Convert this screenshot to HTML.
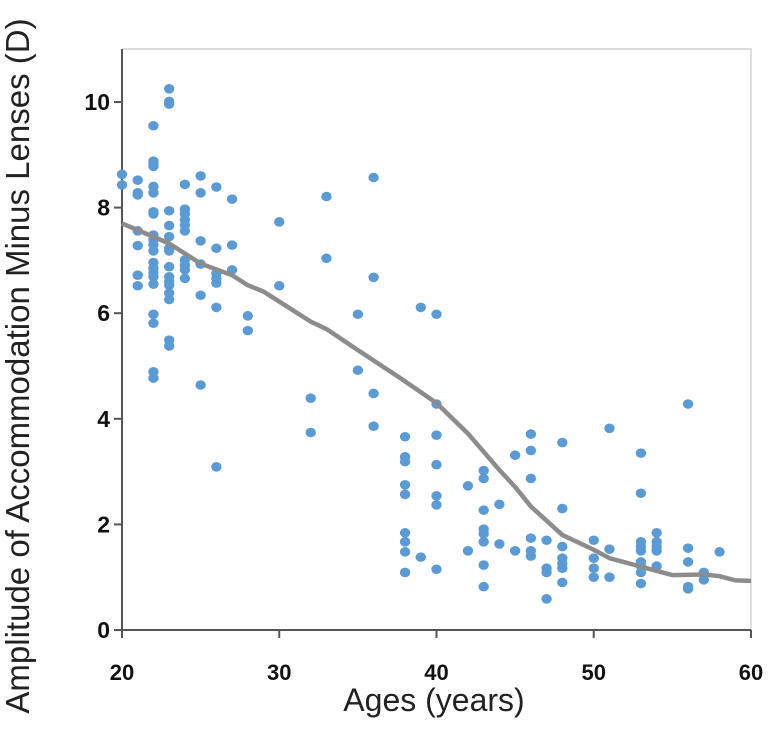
<!DOCTYPE html>
<html><head><meta charset="utf-8"><style>
body{margin:0;background:#fff;}
svg{display:block;font-family:"Liberation Sans",Arial,sans-serif;}
</style></head><body>
<svg id="chart" width="774" height="739" viewBox="0 0 774 739">
<g id="frame"></g>
<g id="ticks"></g>
<g id="dots"></g>
<g id="trend"></g>
<text x="434" y="711" font-size="32" text-anchor="middle" fill="#222">Ages (years)</text>
<text transform="translate(29,366) rotate(-90)" font-size="33" text-anchor="middle" fill="#222">Amplitude of Accommodation Minus Lenses (D)</text>
</svg>
<script>
const xTicks=[20,30,40,50,60];
const yTicks=[0,2,4,6,8,10];
const ages=[20,20,21,21,21,21,21,21,21,
22,22,22,22,22,22,22,22,22,22,22,22,22,22,22,22,22,22,22,22,22,
23,23,23,23,23,23,23,23,23,23,23,23,23,23,23,23,
24,24,24,24,24,24,24,24,24,24,
25,25,25,25,25,25,
26,26,26,26,26,26,26,
27,27,27,28,28,30,30,32,32,33,33,35,35,36,36,36,36,
38,38,38,38,38,38,38,38,38,39,39,
40,40,40,40,40,40,40,42,42,
43,43,43,43,43,43,43,43,44,44,45,45,
46,46,46,46,46,46,47,47,47,47,
48,48,48,48,48,48,48,50,50,50,50,51,51,51,
53,53,53,53,53,53,53,53,53,54,54,54,54,54,
56,56,56,56,56,57,57,58];
const amps=[8.63,8.43,8.52,8.28,8.24,7.56,7.28,6.72,6.52,
9.55,8.88,8.82,8.78,8.40,8.28,7.92,7.88,7.48,7.39,7.30,7.18,6.96,6.85,6.77,6.69,6.55,5.98,5.81,4.89,4.77,
10.25,10.01,9.96,7.94,7.66,7.45,7.23,7.18,6.88,6.69,6.60,6.53,6.38,6.26,5.49,5.38,
8.44,7.97,7.88,7.77,7.67,7.56,7.01,6.91,6.82,6.66,
8.60,8.28,7.37,6.93,6.34,4.64,
8.39,7.23,6.75,6.66,6.57,6.11,3.09,
8.16,7.29,6.82,5.95,5.67,7.73,6.52,4.39,3.74,8.21,7.04,5.98,4.92,8.57,6.68,4.48,3.86,
3.66,3.28,3.19,2.75,2.57,1.84,1.67,1.48,1.09,6.11,1.38,
5.98,4.28,3.69,3.13,2.54,2.37,1.15,2.73,1.50,
3.02,2.87,2.27,1.91,1.82,1.67,1.23,0.82,2.38,1.63,3.31,1.50,
3.71,3.40,2.87,1.74,1.50,1.40,1.70,1.17,1.09,0.59,
3.55,2.30,1.58,1.36,1.26,1.17,0.90,1.70,1.36,1.17,1.00,3.82,1.53,1.00,
3.35,2.59,1.67,1.58,1.50,1.29,1.21,1.09,0.88,1.84,1.67,1.58,1.50,1.21,
4.28,1.55,1.29,0.82,0.78,1.09,0.95,1.48];
const trendAges=[20,23,25,27,28,29,30,32,33,35,37.7,40,42,44,45,46,48,50,51,53,55,57,58,59,60];
const trendVals=[7.70,7.32,6.94,6.72,6.53,6.41,6.22,5.84,5.70,5.30,4.77,4.30,3.72,3.03,2.71,2.34,1.80,1.52,1.36,1.20,1.04,1.05,1.02,0.94,0.93];
const NS='http://www.w3.org/2000/svg';
const X0=122,X1=751,Y0=630,Y10=102;
const xs=v=>X0+(v-20)*(X1-X0)/40;
const ys=v=>Y0-v*(Y0-Y10)/10;
function mk(tag,attrs,parent){const e=document.createElementNS(NS,tag);for(const k in attrs)e.setAttribute(k,attrs[k]);parent.appendChild(e);return e;}
const frame=document.getElementById('frame');
const fr=mk('path',{d:`M${X0},49 H${X1} V${Y0}`,fill:'none',stroke:'#c8c8c8','stroke-width':1.2},frame);


const tk=document.getElementById('ticks');
const ax=mk('path',{d:`M${X0},49 V${Y0} H${X1}`,fill:'none',stroke:'#555','stroke-width':2},tk);


yTicks.forEach(v=>{
 const l=mk('line',{x1:X0-8,x2:X0,y1:ys(v),y2:ys(v),stroke:'#555','stroke-width':2},tk);
 
 
 const t=mk('text',{x:X0-12,y:ys(v)+8,'font-size':23,'font-weight':'bold','text-anchor':'end',fill:'#111'},tk);
 t.textContent=v;
 
 
});
xTicks.forEach(v=>{
 const l=mk('line',{x1:xs(v),x2:xs(v),y1:Y0,y2:Y0+8,stroke:'#555','stroke-width':2},tk);
 
 
 const t=mk('text',{x:xs(v),y:Y0+50,'font-size':22,'font-weight':'bold','text-anchor':'middle',fill:'#111'},tk);
 t.textContent=v;
 
 
});
const dg=document.getElementById('dots');
ages.forEach((a,i)=>{
 const c=mk('ellipse',{cx:xs(a),cy:ys(amps[i]),rx:5.2,ry:4.8,fill:'#5b9bd5'},dg);
 
 
});
const tg=document.getElementById('trend');
const p=mk('polyline',{points:trendAges.map((a,i)=>xs(a)+','+ys(trendVals[i])).join(' '),fill:'none',stroke:'#8c8c8c','stroke-width':4.5,'stroke-linejoin':'round'},tg);


</script>
</body></html>
